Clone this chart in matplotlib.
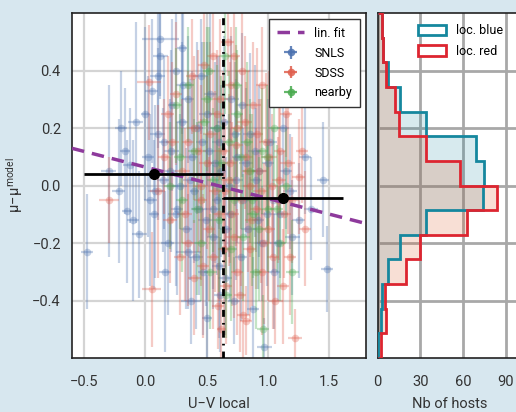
import numpy as np
import matplotlib
matplotlib.use('Agg')
import matplotlib.pyplot as plt
from matplotlib.patches import Patch
from matplotlib.ticker import FuncFormatter

plt.rcParams['font.family'] = ['Roboto', 'DejaVu Sans']

# SNLS hosts: U-V local, mu - mu_model, errors
snls_x = [-0.48, -0.17, -0.13, -0.15, -0.05, 0.0, 0.05, 0.12, 0.3, -0.1, 0.08, 0.15, 0.2, 0.25,
          0.3, 0.35, 0.38, 0.4, 0.45, 0.5, 0.52, 0.55, 0.58, 0.6, 0.62, 0.66, 0.7, 0.72, 0.75,
          0.8, 0.85, 0.88, 0.9, 0.95, 0.97, 1.0, 1.05, 1.1, 1.15, 1.2, 1.3, 1.35, 1.48, 1.45,
          0.25, 0.1, 0.18, 0.22, 0.28, 0.33, 0.42, 0.47, 0.5, 0.55, 0.6, 0.65, 0.68, 0.78, 0.82,
          0.92, 1.02, 1.08, -0.2, 0.02, 0.07, 0.35, 0.44, 0.14, 0.58, 0.73,
          -0.3, -0.22, -0.08, 0.04, 0.1, 0.16, 0.21, 0.26, 0.31, 0.36, 0.41, 0.46, 0.49, 0.53,
          0.57, 0.61, 0.64, 0.69, 0.74, 0.79, 0.84, 0.89, 0.93, 0.99, 1.04, 1.12, 1.18, 1.25,
          0.37, 0.12]
snls_y = [-0.23, 0.12, 0.07, -0.09, -0.17, 0.25, 0.33, 0.51, 0.48, -0.12, -0.02, 0.15, 0.05, -0.1,
          0.22, -0.23, 0.1, -0.02, 0.38, -0.46, 0.12, -0.08, 0.2, -0.28, 0.05, -0.15, 0.3, -0.4, 0.1,
          -0.05, 0.18, -0.43, 0.02, -0.2, -0.56, 0.08, -0.3, -0.1, 0.05, -0.18, 0.1, -0.08, -0.29, 0.02,
          0.4, 0.18, -0.2, 0.28, 0.0, -0.15, 0.2, -0.3, 0.25, -0.18, 0.15, -0.32, 0.0, -0.25, 0.08,
          -0.12, 0.15, -0.2, 0.2, 0.1, -0.1, 0.3, -0.08, 0.02, -0.05, 0.18,
          0.05, -0.02, 0.22, -0.05, 0.38, -0.3, 0.12, -0.08, 0.35, 0.02, -0.25, 0.15, -0.12, 0.32,
          0.08, -0.38, 0.22, -0.1, 0.02, 0.28, -0.15, 0.12, 0.05, -0.1, -0.05, 0.2, -0.02, -0.12,
          -0.4, 0.45]
snls_xe = [0.05, 0.04, 0.05, 0.04, 0.06, 0.04, 0.05, 0.15, 0.04, 0.05, 0.06, 0.04, 0.05, 0.07,
           0.05, 0.1, 0.05, 0.04, 0.06, 0.04, 0.05, 0.06, 0.05, 0.06, 0.04, 0.05, 0.06, 0.05, 0.04,
           0.06, 0.05, 0.05, 0.05, 0.06, 0.06, 0.05, 0.05, 0.06, 0.05, 0.06, 0.05, 0.06, 0.05, 0.05,
           0.05, 0.06, 0.05, 0.04, 0.06, 0.05, 0.05, 0.04, 0.06, 0.05, 0.06, 0.06, 0.05, 0.05, 0.06,
           0.05, 0.05, 0.06, 0.05, 0.05, 0.04, 0.05, 0.06, 0.05, 0.04, 0.05,
           0.06, 0.05, 0.06, 0.05, 0.06, 0.05, 0.06, 0.05, 0.06, 0.05, 0.06, 0.05, 0.06, 0.05,
           0.06, 0.05, 0.06, 0.05, 0.06, 0.05, 0.06, 0.05, 0.06, 0.05, 0.06, 0.05, 0.06, 0.05,
           0.08, 0.06]
snls_ye = [0.2, 0.22, 0.2, 0.25, 0.22, 0.3, 0.25, 0.2, 0.3, 0.28, 0.3, 0.3, 0.25, 0.25,
           0.28, 0.2, 0.3, 0.25, 0.2, 0.15, 0.3, 0.28, 0.25, 0.25, 0.3, 0.25, 0.22, 0.15, 0.3,
           0.25, 0.28, 0.18, 0.25, 0.2, 0.1, 0.22, 0.2, 0.22, 0.2, 0.2, 0.2, 0.18, 0.15, 0.2,
           0.25, 0.3, 0.25, 0.3, 0.25, 0.28, 0.3, 0.22, 0.25, 0.25, 0.3, 0.2, 0.25, 0.22, 0.26,
           0.24, 0.2, 0.2, 0.2, 0.28, 0.26, 0.22, 0.3, 0.25, 0.26, 0.25,
           0.3, 0.25, 0.35, 0.3, 0.25, 0.28, 0.35, 0.3, 0.25, 0.35, 0.25, 0.35, 0.3, 0.28,
           0.35, 0.2, 0.3, 0.3, 0.35, 0.25, 0.3, 0.3, 0.3, 0.25, 0.25, 0.2, 0.2, 0.2,
           0.15, 0.15]

# SDSS hosts
sdss_x = [-0.3, 0.03, 0.05, 0.15, 0.2, 0.25, 0.3, 0.35, 0.4, 0.45, 0.48, 0.5, 0.55, 0.58, 0.6,
          0.63, 0.66, 0.68, 0.7, 0.72, 0.75, 0.78, 0.8, 0.82, 0.85, 0.88, 0.9, 0.93, 0.95, 0.98,
          1.0, 1.03, 1.06, 1.1, 1.13, 1.18, 1.22, 1.25, 1.3, 1.28, 0.82, 0.55, 0.62, 0.4, 0.28,
          0.72, 0.95, 1.15, 0.35, 0.65, 0.85, 0.52, 0.75, 1.08, 0.18,
          0.1, 0.22, 0.32, 0.38, 0.43, 0.47, 0.53, 0.57, 0.61, 0.64, 0.69, 0.71, 0.74, 0.77, 0.81,
          0.84, 0.87, 0.91, 0.94, 0.97, 1.01, 1.04, 1.09, 1.12, 1.16, 1.2, 0.67, 0.79, 0.59, 0.45]
sdss_y = [-0.05, 0.36, -0.36, 0.1, -0.12, 0.32, 0.05, -0.2, 0.2, -0.05, 0.42, 0.08, -0.25, 0.25, -0.1,
          0.12, -0.35, 0.02, 0.35, -0.18, 0.2, -0.05, -0.45, 0.1, -0.22, 0.28, -0.08, 0.05, -0.3, 0.15,
          -0.15, 0.0, -0.4, 0.12, -0.1, -0.25, -0.53, 0.03, -0.15, 0.12, -0.47, 0.45, -0.5, -0.32, -0.25,
          0.45, 0.35, 0.25, 0.15, -0.02, 0.0, -0.15, -0.3, -0.05, 0.25,
          -0.02, 0.15, -0.1, 0.38, 0.12, -0.28, 0.18, -0.02, 0.3, -0.22, 0.08, -0.1, 0.14, -0.38, 0.22,
          0.05, -0.12, 0.18, -0.02, -0.2, 0.1, -0.25, 0.02, -0.35, 0.08, -0.05, 0.5, 0.4, -0.42, 0.0]
sdss_xe = [0.08, 0.1, 0.08, 0.05, 0.06, 0.05, 0.06, 0.05, 0.06, 0.05, 0.05, 0.06, 0.05, 0.06, 0.05,
           0.06, 0.05, 0.06, 0.05, 0.06, 0.05, 0.06, 0.05, 0.06, 0.05, 0.06, 0.05, 0.06, 0.06, 0.05,
           0.06, 0.05, 0.06, 0.05, 0.06, 0.05, 0.06, 0.05, 0.05, 0.05, 0.05, 0.05, 0.04, 0.05, 0.05,
           0.05, 0.05, 0.05, 0.05, 0.05, 0.05, 0.05, 0.05, 0.05, 0.05,
           0.06, 0.05, 0.06, 0.05, 0.06, 0.05, 0.06, 0.05, 0.06, 0.05, 0.06, 0.05, 0.06, 0.05, 0.06,
           0.05, 0.06, 0.05, 0.06, 0.05, 0.06, 0.05, 0.06, 0.05, 0.06, 0.05, 0.05, 0.06, 0.05, 0.06]
sdss_ye = [0.15, 0.2, 0.2, 0.2, 0.22, 0.25, 0.25, 0.22, 0.25, 0.28, 0.2, 0.3, 0.25, 0.22, 0.3,
           0.28, 0.2, 0.3, 0.2, 0.28, 0.25, 0.3, 0.15, 0.26, 0.25, 0.22, 0.28, 0.25, 0.22, 0.24,
           0.25, 0.25, 0.15, 0.22, 0.22, 0.2, 0.1, 0.2, 0.2, 0.18, 0.12, 0.2, 0.12, 0.2, 0.2,
           0.15, 0.2, 0.15, 0.25, 0.25, 0.25, 0.25, 0.22, 0.22, 0.2,
           0.3, 0.28, 0.3, 0.2, 0.35, 0.25, 0.32, 0.35, 0.28, 0.3, 0.35, 0.32, 0.35, 0.2, 0.3,
           0.35, 0.3, 0.3, 0.32, 0.28, 0.3, 0.25, 0.28, 0.2, 0.25, 0.22, 0.12, 0.2, 0.15, 0.35]

# nearby hosts
near_x = [0.25, 0.3, 0.4, 0.45, 0.5, 0.55, 0.6, 0.65, 0.68, 0.72, 0.75, 0.8, 0.85, 0.9, 0.95,
          0.96, 1.0, 1.05, 1.1, 1.15, 0.35, 0.2, 0.78, 0.58, 1.2, 0.88,
          0.28, 0.42, 0.48, 0.53, 0.62, 0.7, 0.74, 0.83, 0.87, 0.93, 0.99, 1.07, 0.66, 0.52]
near_y = [0.28, -0.05, 0.12, -0.2, 0.3, 0.02, -0.12, 0.45, 0.15, -0.05, 0.25, -0.18, 0.05, -0.3, 0.12,
          -0.5, -0.08, 0.2, -0.2, 0.0, 0.35, 0.0, 0.1, 0.2, -0.3, -0.1,
          0.1, -0.08, 0.22, -0.3, 0.08, -0.22, 0.35, 0.15, -0.05, -0.15, 0.1, -0.08, -0.38, 0.4]
near_xe = [0.05] * len(near_x)
near_ye = [0.2, 0.25, 0.25, 0.2, 0.25, 0.25, 0.25, 0.2, 0.25, 0.25, 0.22, 0.22, 0.25, 0.2, 0.22,
           0.12, 0.22, 0.2, 0.2, 0.2, 0.2, 0.22, 0.25, 0.22, 0.18, 0.22,
           0.25, 0.3, 0.28, 0.2, 0.3, 0.25, 0.2, 0.28, 0.3, 0.25, 0.25, 0.22, 0.15, 0.15]

# binned means (split at U-V = 0.63)
split_uv = 0.63
bin_x = [0.07, 1.12]
bin_y = [0.04, -0.044]
bin_xlo = [-0.5, split_uv]
bin_xhi = [split_uv, 1.61]

# linear fit
fit_slope = -0.109
fit_icpt = 0.064

# host histograms (bins from -0.6 to 0.6)
hist_edges = np.linspace(-0.6, 0.6, 15)
blue_counts = [0, 2, 3, 7, 16, 34, 74, 75, 69, 34, 16, 7, 4, 3]
red_counts = [2, 6, 5, 20, 30, 63, 84, 58, 34, 15, 12, 6, 4, 3]

bg = '#d7e7ef'
c_snls = '#4c72b0'
c_sdss = '#e0604f'
c_near = '#4aab50'
c_fit = '#8e3a9c'
c_lblue = '#15879e'
c_lred = '#dd2530'


def minus_fmt(v, pos):
    return ('%.1f' % v).replace('-', '\u2212')


fig = plt.figure(figsize=(5.16, 4.12), dpi=100, facecolor=bg)
ax = fig.add_axes([0.1395, 0.131, 0.5698, 0.8374])
ax2 = fig.add_axes([0.732, 0.131, 0.278, 0.8374])

for xs, ys, xe, ye, col in [(snls_x, snls_y, snls_xe, snls_ye, c_snls),
                            (sdss_x, sdss_y, sdss_xe, sdss_ye, c_sdss),
                            (near_x, near_y, near_xe, near_ye, c_near)]:
    ax.errorbar(xs, ys, xerr=xe, yerr=ye, fmt='o', color=col, ms=5.5, mec='none',
                elinewidth=1.6, capsize=0, alpha=0.32, zorder=2)

# legend proxies
fit_line, = ax.plot([-0.6, 1.8], [fit_icpt + fit_slope * -0.6, fit_icpt + fit_slope * 1.8],
                    color=c_fit, lw=2.5, dashes=[3.6, 2.3], zorder=4, label='lin. fit')
handles = [fit_line]
for col, lab in [(c_snls, 'SNLS'), (c_sdss, 'SDSS'), (c_near, 'nearby')]:
    h = ax.errorbar([np.nan], [np.nan], xerr=[0.1], yerr=[0.1], fmt='o', color=col, ms=5.5,
                    mec='none', elinewidth=1.6, capsize=0, alpha=0.85, label=lab)
    handles.append(h)

ax.axvline(split_uv, color='black', lw=2, dashes=[2.5, 2.2, 0.6, 2.2], zorder=5)
xerr = [np.array(bin_x) - np.array(bin_xlo), np.array(bin_xhi) - np.array(bin_x)]
ax.errorbar(bin_x, bin_y, xerr=xerr, fmt='o', color='black', ms=7, elinewidth=2, capsize=0, zorder=6)

ax.set_xlim(-0.6, 1.8)
ax.set_ylim(-0.6, 0.6)
ax.set_xticks([-0.5, 0.0, 0.5, 1.0, 1.5])
ax.set_yticks([-0.4, -0.2, 0.0, 0.2, 0.4])
ax.xaxis.set_major_formatter(FuncFormatter(minus_fmt))
ax.yaxis.set_major_formatter(FuncFormatter(minus_fmt))
ax.grid(True, color='#d4d4d4', lw=1.6, zorder=0)
ax.set_axisbelow(True)
ax.tick_params(length=0, labelsize=10.5, labelcolor='#333333')
ax.tick_params(axis='x', pad=12)
ax.tick_params(axis='y', pad=8)
for s in ax.spines.values():
    s.set_color('#222222')
    s.set_linewidth(1.2)
ax.set_xlabel('U\u2212V local', fontsize=10.5, color='#333333', labelpad=6)
ax.set_ylabel(r'$\mathregular{\mu\!-\!\mu^{model}}$', fontsize=10.5, color='#333333', labelpad=5)

leg = ax.legend(handles=handles, loc='upper right', fontsize=9, fancybox=False, framealpha=1,
                edgecolor='#333333', handlelength=2.2, borderpad=0.6, labelspacing=0.55)
leg.get_frame().set_linewidth(1.0)

# histograms
ax2.stairs(blue_counts, hist_edges, orientation='horizontal', fill=True, color=c_lblue, alpha=0.17, lw=0)
ax2.stairs(red_counts, hist_edges, orientation='horizontal', fill=True, color='#e0602e', alpha=0.2, lw=0)
ax2.stairs(blue_counts, hist_edges, orientation='horizontal', color=c_lblue, lw=2, zorder=3)
ax2.stairs(red_counts, hist_edges, orientation='horizontal', color=c_lred, lw=2, zorder=4)
ax2.set_ylim(-0.6, 0.6)
ax2.set_xlim(0, 101)
ax2.set_xticks([0, 30, 60, 90])
ax2.set_yticks([-0.4, -0.2, 0.0, 0.2, 0.4])
ax2.grid(True, color='#a8a8a8', lw=2, zorder=0)
ax2.set_axisbelow(True)
ax2.tick_params(length=0, pad=12, labelsize=10.5, labelcolor='#333333', labelleft=False)
for s in ax2.spines.values():
    s.set_color('#222222')
    s.set_linewidth(1.2)
ax2.set_xlabel('Nb of hosts', fontsize=10.5, color='#333333', labelpad=6)
hist_handles = [Patch(facecolor='white', edgecolor=c_lblue, lw=2, label='loc. blue'),
                Patch(facecolor='white', edgecolor=c_lred, lw=2, label='loc. red')]
ax2.legend(handles=hist_handles, loc='upper left', bbox_to_anchor=(0.2, 1.0), frameon=False,
           fontsize=9, handlelength=2.3, handleheight=0.9, labelspacing=0.6)

fig.savefig('out.png', dpi=100, facecolor=bg)
